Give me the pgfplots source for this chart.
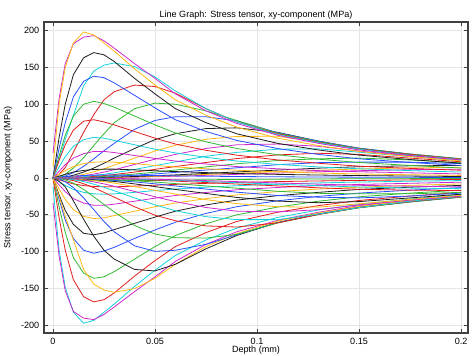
\documentclass[border=0pt]{standalone}
\usepackage{pgfplots}
\pgfplotsset{compat=1.18}
\usepackage{pgfplotstable}
\usepackage{fontspec}
\setmainfont{Liberation Sans}
\definecolor{cB}{RGB}{40,80,255}
\definecolor{cG}{RGB}{50,185,50}
\definecolor{cR}{RGB}{225,30,30}
\definecolor{cC}{RGB}{20,210,220}
\definecolor{cM}{RGB}{205,40,205}
\definecolor{cY}{RGB}{255,185,20}
\definecolor{cK}{RGB}{30,30,30}

\pgfplotstableread{
x F1 F2 F3 F4 F5 F6 F7 F8 F9 F10 S1 S2 S3 S4 S5 S6 S7 S8 S9 S10 S11 S12 S13 S14 S15
0 15 0 0 0 0 0 0 0 0 0 34 0 0 0 0 0 0 0 0 0 0 0 0 0 0
0.003 100 55 40 30 24 15 9 5 2.5 0.8 108 25 5 1.3 0.7 0.3 0.2 0.1 0.05 0.03 0.02 0.01 0 0 0
0.006 150 100 75 58 45 29 18 10 5 1.6 155 52 14 5 2.7 1.3 1 0.4 0.2 0.15 0.1 0.06 0.04 0.03 0.02
0.01 183 140 110 84 65 43 27 15.5 8 2.6 182 85 35 13.5 7.2 3.7 2.2 1.3 0.8 0.6 0.4 0.25 0.13 0.1 0.07
0.015 198 163 131 100 77 52 33 19.5 10.3 3.4 191 125 62 27.5 15.8 8 4.9 3 1.9 1.2 0.8 0.55 0.3 0.2 0.15
0.02 194 170 138 104 79 55 36 21.5 11.5 3.8 193 145 86 44 26 13.5 8.4 5.3 3.3 2.2 1.4 1 0.5 0.4 0.3
0.025 183 167 136 101 76 54 36 22 12 4 186 153 106 60 37 20 12.6 8 5 3.3 2.2 1.5 0.8 0.6 0.45
0.03 172 158 129 96 72 51 34.5 21.5 12 4 176 156 117 75 47 27 17.3 11.2 7 4.7 3.2 2.2 1.2 0.9 0.65
0.04 148 135 112 84 63 45 30.5 19.5 11 3.7 155 151 126 94 66 40 27 18.3 11.6 8 5.3 3.7 2 1.5 1.1
0.05 126 114 95 72 54 39 26.5 17 9.8 3.3 135 137 124 101.5 78 52 36.5 25.5 16.8 11.7 7.9 5.5 3 2.3 1.7
0.06 106 94 79 61 46 34 23 15 8.7 2.9 114 118 115 100 83 60 44.4 32 21.8 15.5 10.8 7.6 4.2 3.2 2.4
0.075 85 75 63 49 37.5 28 19 12.5 7.3 2.4 91 94 94 91 83 67 52.5 40 29.4 21 15 10.8 6.2 4.8 3.6
0.09 69 60 51 40 31 23 15.5 10.5 6.1 2 74 76 76 78 77.5 68 56.4 45 34.7 26.3 19.2 13.8 8.2 6.4 4.9
0.11 54 47 40 31.5 24.5 18.5 12.5 8.3 4.9 1.6 58 59 60 61 61.5 62 56.5 46 39 31.3 23.7 18 10.7 8.5 6.7
0.13 44 38 32 25.5 20 15 10 6.7 4 1.3 47 48 48.5 49.5 50 50 49 43 39.5 33.5 26 20.8 13.3 10.5 8.4
0.15 36 31 26 21 16 12.5 8.5 5.5 3.3 1.1 38 39 39.5 40 40.5 40 40 36.5 35 32 27 21.5 15.3 12.2 9.9
0.175 29 25 21 17 13 10 7 4.4 2.6 0.9 30.5 31 32 32.5 32.5 32 31.5 30 29 27 24.5 21.5 16.5 13.7 11.2
0.2 23 20 17 13.5 10.5 8 5.5 3.5 2 0.7 24.5 25 25.5 26 26 25.5 25 24.5 23.5 22 20.5 19.5 17 14.5 12
}\pos

\pgfplotstableread{
x F1 F2 F3 F4 F5 F6 F7 F8 F9 F10 S1 S2 S3 S4 S5 S6 S7 S8 S9 S10 S11 S12 S13 S14 S15
0 -12 0 0 0 0 0 0 0 0 0 -34 0 0 0 0 0 0 0 0 0 0 0 0 0 0
0.003 -98 -54 -39 -29 -23 -15 -9.3 -5 -2.5 -0.8 -106 -25 -4.5 -1.3 -0.7 -0.3 -0.2 -0.1 -0.05 -0.03 -0.02 -0.01 0 0 0
0.006 -148 -98 -74 -57 -44 -29 -18.5 -10 -5 -1.6 -153 -52 -12 -5 -2.6 -1.3 -1 -0.4 -0.2 -0.15 -0.1 -0.06 -0.04 -0.03 -0.02
0.01 -182 -138 -108 -82 -63 -43 -28 -15.5 -8 -2.6 -181 -84 -31 -13 -7 -3.6 -2.2 -1.3 -0.8 -0.6 -0.4 -0.25 -0.13 -0.1 -0.07
0.015 -197 -161 -129 -98 -75 -52 -34 -19.5 -10.3 -3.4 -190 -124 -56 -27 -15.5 -7.8 -4.9 -3 -1.9 -1.2 -0.8 -0.55 -0.3 -0.2 -0.15
0.02 -193 -168 -136 -102 -77 -55 -37 -21.5 -11.5 -3.8 -192 -144 -79 -43 -25.5 -13 -8.4 -5.3 -3.3 -2.2 -1.4 -1 -0.5 -0.4 -0.3
0.025 -182 -165 -134 -99 -74.5 -54 -37 -22 -12 -4 -185 -152 -98 -59 -36 -19.5 -12.6 -8 -5 -3.3 -2.2 -1.5 -0.8 -0.6 -0.45
0.03 -171 -156 -127 -94 -70 -51 -35.5 -21.5 -12 -4 -175 -155 -110 -73 -46 -26 -17.3 -11.2 -7 -4.7 -3.2 -2.2 -1.2 -0.9 -0.65
0.04 -147 -133 -110 -82 -61.5 -45 -31.5 -19.5 -11 -3.7 -154 -150 -124 -92 -64.5 -39 -27 -18.3 -11.6 -8 -5.3 -3.7 -2 -1.5 -1.1
0.05 -125 -112 -93 -70.5 -53 -39 -27.3 -17 -9.8 -3.3 -134 -136 -126 -99.5 -76 -50.5 -36.5 -25.5 -16.8 -11.7 -7.9 -5.5 -3 -2.3 -1.7
0.06 -105 -93 -78 -60 -45 -34 -23.7 -15 -8.7 -2.9 -113 -117 -117 -98 -81 -58 -44.4 -32 -21.8 -15.5 -10.8 -7.6 -4.2 -3.2 -2.4
0.075 -84 -74 -62 -48 -36.5 -28 -19.6 -12.5 -7.3 -2.4 -90 -93 -96 -90 -81.5 -65 -52.5 -40 -29.4 -21 -15 -10.8 -6.2 -4.8 -3.6
0.09 -68 -59 -50 -39 -30 -23 -16 -10.5 -6.1 -2 -73 -75.5 -78 -77 -76.5 -66.5 -56.4 -45 -34.7 -26.3 -19.2 -13.8 -8.2 -6.4 -4.9
0.11 -53.5 -46.5 -39.5 -31 -24 -18.5 -12.9 -8.3 -4.9 -1.6 -57.5 -58.5 -60.5 -60.5 -61 -61 -56.5 -46 -39 -31.3 -23.7 -18 -10.7 -8.5 -6.7
0.13 -43.5 -37.5 -31.5 -25 -19.5 -15 -10.3 -6.7 -4 -1.3 -46.5 -47.5 -49 -49 -49.5 -49.5 -49 -43 -39.5 -33.5 -26 -20.8 -13.3 -10.5 -8.4
0.15 -35.5 -30.5 -25.5 -20.5 -15.5 -12.5 -8.8 -5.5 -3.3 -1.1 -37.5 -38.5 -40 -40 -40.5 -40 -40 -36.5 -35 -32 -27 -21.5 -15.3 -12.2 -9.9
0.175 -28.5 -24.5 -20.5 -16.5 -12.5 -10 -7.2 -4.4 -2.6 -0.9 -30 -30.5 -32 -32.5 -32.5 -32 -31.5 -30 -29 -27 -24.5 -21.5 -16.5 -13.7 -11.2
0.2 -22.5 -19.5 -16.5 -13 -10 -8 -5.7 -3.5 -2 -0.7 -24 -24.5 -25.5 -26 -26 -25.5 -25 -24.5 -23.5 -22 -20.5 -19.5 -17 -14.5 -12
}\negt

\begin{document}
\begin{tikzpicture}
\path[use as bounding box] (-33pt,-16.5pt) rectangle (322.5pt,249.75pt);
\begin{axis}[
  at={(0,0)}, anchor=south west,
  scale only axis, width=318pt, height=233.25pt,
  xmin=-0.00441, xmax=0.2034, ymin=-210.2, ymax=211.5,
  xtick={0,0.05,0.1,0.15,0.2},
  xticklabels={0,0.05,0.1,0.15,0.2},
  ytick={-200,-150,-100,-50,0,50,100,150,200},
  yticklabels={-200,-150,-100,-50,0,50,100,150,200},
  tick pos=both, tick align=inside,
  xticklabel pos=lower, yticklabel pos=left,
  major tick length=3pt,
  tick style={black!75, line width=0.6pt},
  axis line style={black!75, line width=0.9pt},
  grid=major,
  major grid style={black!10, line width=0.5pt},
  tick label style={font=\fontsize{6.8}{8}\selectfont},
  xticklabel style={yshift=-0.5pt},
  every axis title shift=0pt,
  title={Line Graph: Stress tensor, xy-component (MPa)},
  title style={font=\fontsize{6.8}{8}\selectfont, at={(axis description cs:0.5,1)}, anchor=south, yshift=-1.3pt},
  xlabel={Depth (mm)},
  xlabel style={font=\fontsize{6.8}{8}\selectfont, at={(axis description cs:0.5,0)}, anchor=north, yshift=-6pt},
  ylabel={Stress tensor, xy-component (MPa)},
  ylabel style={font=\fontsize{6.8}{8}\selectfont, at={(axis description cs:-0.0849,0.5)}, anchor=center},
  every axis plot/.append style={line width=0.6pt, no markers, line join=round},
]
% positive side
\addplot[cM] table[x=x,y=S15]{\pos};
\addplot[cY] table[x=x,y=S14]{\pos};
\addplot[cK] table[x=x,y=S13]{\pos};
\addplot[cB] table[x=x,y=S12]{\pos};
\addplot[cG] table[x=x,y=S11]{\pos};
\addplot[cR] table[x=x,y=S10]{\pos};
\addplot[cC] table[x=x,y=S9]{\pos};
\addplot[cM] table[x=x,y=S8]{\pos};
\addplot[cY] table[x=x,y=S7]{\pos};
\addplot[cK] table[x=x,y=S6]{\pos};
\addplot[cB] table[x=x,y=S5]{\pos};
\addplot[cG] table[x=x,y=S4]{\pos};
\addplot[cR] table[x=x,y=S3]{\pos};
\addplot[cC] table[x=x,y=S2]{\pos};
\addplot[cM] table[x=x,y=S1]{\pos};
\addplot[cY] table[x=x,y=F1]{\pos};
\addplot[cK] table[x=x,y=F2]{\pos};
\addplot[cB] table[x=x,y=F3]{\pos};
\addplot[cG] table[x=x,y=F4]{\pos};
\addplot[cR] table[x=x,y=F5]{\pos};
\addplot[cC] table[x=x,y=F6]{\pos};
\addplot[cM] table[x=x,y=F7]{\pos};
\addplot[cY] table[x=x,y=F8]{\pos};
\addplot[cK] table[x=x,y=F9]{\pos};
\addplot[cB] table[x=x,y=F10]{\pos};
% negative side
\addplot[cG] table[x=x,y=F10]{\negt};
\addplot[cR] table[x=x,y=F9]{\negt};
\addplot[cC] table[x=x,y=F8]{\negt};
\addplot[cM] table[x=x,y=F7]{\negt};
\addplot[cY] table[x=x,y=F6]{\negt};
\addplot[cK] table[x=x,y=F5]{\negt};
\addplot[cB] table[x=x,y=F4]{\negt};
\addplot[cG] table[x=x,y=F3]{\negt};
\addplot[cR] table[x=x,y=F2]{\negt};
\addplot[cC] table[x=x,y=F1]{\negt};
\addplot[cM] table[x=x,y=S1]{\negt};
\addplot[cY] table[x=x,y=S2]{\negt};
\addplot[cK] table[x=x,y=S3]{\negt};
\addplot[cB] table[x=x,y=S4]{\negt};
\addplot[cG] table[x=x,y=S5]{\negt};
\addplot[cR] table[x=x,y=S6]{\negt};
\addplot[cC] table[x=x,y=S7]{\negt};
\addplot[cM] table[x=x,y=S8]{\negt};
\addplot[cY] table[x=x,y=S9]{\negt};
\addplot[cK] table[x=x,y=S10]{\negt};
\addplot[cB] table[x=x,y=S11]{\negt};
\addplot[cG] table[x=x,y=S12]{\negt};
\addplot[cR] table[x=x,y=S13]{\negt};
\addplot[cC] table[x=x,y=S14]{\negt};
\addplot[cM] table[x=x,y=S15]{\negt};
\end{axis}
\end{tikzpicture}
\end{document}
